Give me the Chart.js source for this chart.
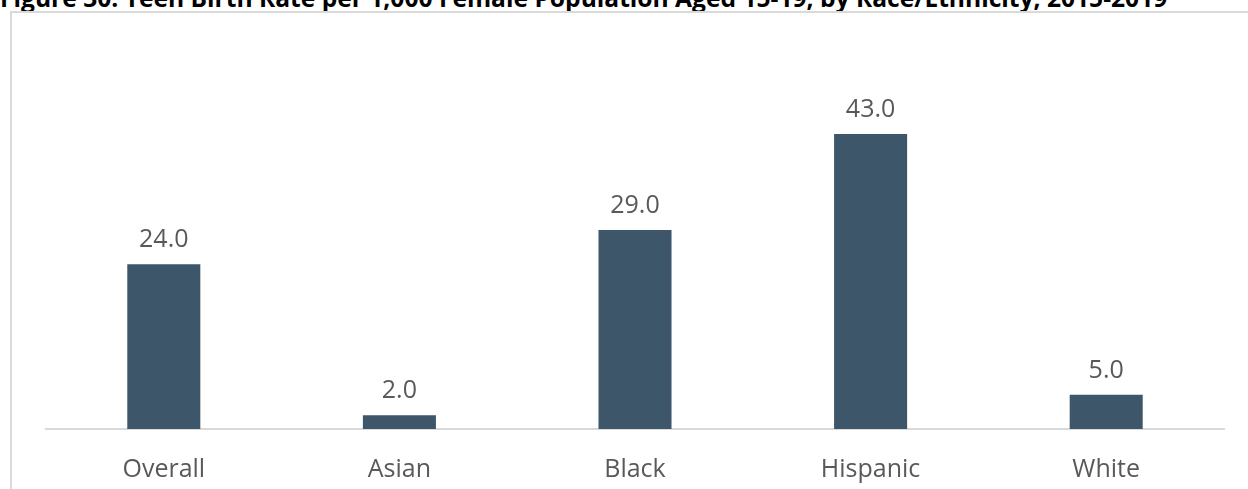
<!DOCTYPE html>
<html>
<head>
<meta charset="utf-8">
<script src="https://cdn.jsdelivr.net/npm/chart.js@4/dist/chart.umd.min.js"></script>
<style>
  html, body { margin: 0; padding: 0; background: #fff; }
  .wrap { position: relative; width: 1248px; height: 489px; overflow: hidden; }
  .title {
    position: absolute; left: 0; top: -15px;
    font-family: "Open Sans", sans-serif; font-weight: bold; font-size: 24.6px;
    color: #000; white-space: nowrap; line-height: 26px;
  }
  .frame {
    position: absolute; left: 10px; top: 11px; width: 1260px; height: 500px;
    border-left: 2px solid #d9d9d9; border-top: 2px solid #d9d9d9;
  }
  canvas { position: absolute; left: 0; top: 0; }
</style>
</head>
<body>
<div class="wrap">
  <div class="title">Figure 30: Teen Birth Rate per 1,000 Female Population Aged 15-19, by Race/Ethnicity, 2015-2019</div>
  <div class="frame"></div>
  <canvas id="chart" width="1248" height="489"></canvas>
</div>
<script>
const categories = ['Overall', 'Asian', 'Black', 'Hispanic', 'White'];
const birthRates = [24.0, 2.0, 29.0, 43.0, 5.0];

const barColor = '#3e5669';
const textColor = '#595959';
const fontFamily = '"Open Sans", sans-serif';

// writes the value above each bar
const valueLabels = {
  id: 'valueLabels',
  afterDatasetsDraw(chart) {
    const ctx = chart.ctx;
    const meta = chart.getDatasetMeta(0);
    ctx.save();
    ctx.fillStyle = textColor;
    ctx.font = '25px ' + fontFamily;
    ctx.textAlign = 'center';
    ctx.textBaseline = 'alphabetic';
    meta.data.forEach((bar, i) => {
      ctx.fillText(birthRates[i].toFixed(1), bar.x, bar.y - 17);
    });
    ctx.restore();
  }
};

new Chart(document.getElementById('chart'), {
  type: 'bar',
  data: {
    labels: categories,
    datasets: [{
      data: birthRates,
      backgroundColor: barColor,
      categoryPercentage: 1,
      barPercentage: 0.31
    }]
  },
  options: {
    responsive: false,
    animation: false,
    layout: { padding: { left: 46, right: 24, top: 86, bottom: 0 } },
    plugins: {
      legend: { display: false },
      tooltip: { enabled: false }
    },
    scales: {
      x: {
        grid: { display: false },
        border: { display: true, color: '#d9d9d9', width: 2 },
        ticks: { color: textColor, font: { family: fontFamily, size: 25 }, padding: 18 },
        afterFit(scale) { scale.height = 60; }
      },
      y: {
        display: false,
        min: 0,
        max: 50
      }
    }
  },
  plugins: [valueLabels]
});
</script>
</body>
</html>
